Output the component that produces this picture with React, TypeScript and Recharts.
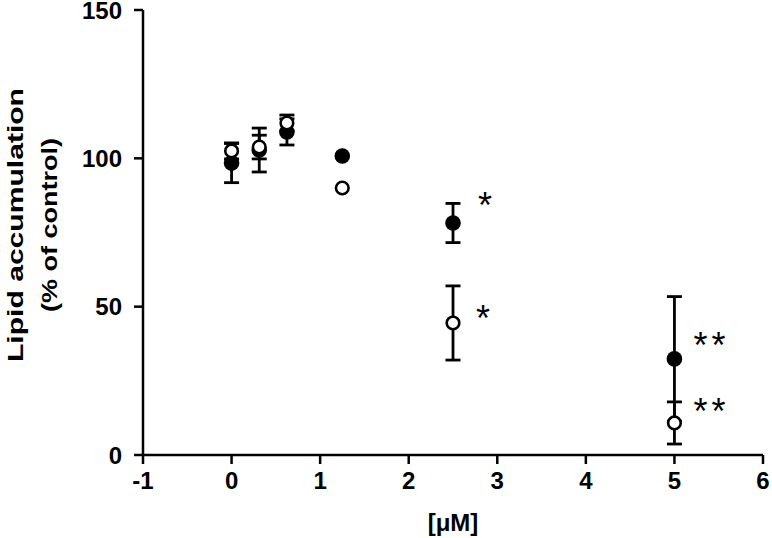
import { ScatterChart, Scatter, XAxis, YAxis, ErrorBar, Label } from "recharts";

// concentration (µM)
const doses = [0, 0.3125, 0.625, 1.25, 2.5, 5];
// filled circles
const filledMean = [98.4, 102.8, 108.9, 100.8, 78.2, 32.4];
const filledErr = [6.6, 7.4, 4.4, 0, 6.6, 21];
// open circles
const openMean = [102.5, 103.8, 111.9, 90, 44.5, 10.8];
const openErr = [2.7, 4, 2.7, 0, 12.5, 7.1];

const xTicks = [-1, 0, 1, 2, 3, 4, 5, 6];
const yTicks = [0, 50, 100, 150];

// significance marks
const sigX = [2.86, 2.84, 5.42, 5.42];
const sigY = [86.5, 48.5, 39.5, 17.2];
const sigText = ["*", "*", "**", "**"];

const filledData = doses.map((x, i) => ({ x, y: filledMean[i], err: filledErr[i] }));
const openData = doses.map((x, i) => ({ x, y: openMean[i], err: openErr[i] }));
const sigData = sigX.map((x, i) => ({ x, y: sigY[i], label: sigText[i] }));

const font = "'Liberation Sans', Arial, Helvetica, sans-serif";
const axisStyle = { stroke: "#000", strokeWidth: 2.5 };
const tickStyle = { fill: "#000", fontSize: 24, fontWeight: 700, fontFamily: font };

const FilledDot = (p: any) => <circle cx={p.cx} cy={p.cy} r={7.8} fill="#000" />;
const OpenDot = (p: any) => (
  <circle cx={p.cx} cy={p.cy} r={6.3} fill="#fff" stroke="#000" strokeWidth={2.6} />
);
const SigMark = (p: any) => (
  <text
    x={p.cx}
    y={p.cy + 20}
    textAnchor="middle"
    fontSize={36}
    fontFamily={font}
    letterSpacing={p.payload.label.length > 1 ? 4 : 0}
    fill="#000"
  >
    {p.payload.label}
  </text>
);

const YTitle = () => (
  <g fontFamily={font} fontWeight={700} fontSize={22} fill="#000">
    <text
      transform="translate(23,225) rotate(-90)"
      textAnchor="middle"
      textLength={274}
      lengthAdjust="spacingAndGlyphs"
    >
      Lipid accumulation
    </text>
    <text
      transform="translate(57,225) rotate(-90)"
      textAnchor="middle"
      textLength={174}
      lengthAdjust="spacingAndGlyphs"
    >
      (% of control)
    </text>
  </g>
);

export default function App() {
  return (
    <div style={{ position: "absolute", left: 0, top: 0, background: "#fff" }}>
      <ScatterChart
        width={772}
        height={538}
        margin={{ top: 10, right: 9, bottom: 0, left: 0 }}
      >
        <XAxis
          type="number"
          dataKey="x"
          domain={[-1, 6]}
          ticks={xTicks}
          interval={0}
          height={83}
          axisLine={axisStyle}
          tickLine={axisStyle}
          tickSize={9}
          tickMargin={8}
          tick={tickStyle}
        >
          <Label
            value="[μM]"
            position="insideBottom"
            offset={7}
            style={{ fill: "#000", fontSize: 24, fontWeight: 700, fontFamily: font }}
          />
        </XAxis>
        <YAxis
          type="number"
          dataKey="y"
          domain={[0, 150]}
          ticks={yTicks}
          interval={0}
          width={143}
          axisLine={axisStyle}
          tickLine={axisStyle}
          tickSize={9}
          tickMargin={12}
          tick={tickStyle}
        >
          <Label content={<YTitle />} />
        </YAxis>
        <Scatter data={filledData} shape={FilledDot} isAnimationActive={false}>
          <ErrorBar dataKey="err" direction="y" width={7.5} stroke="#000" strokeWidth={2.8} />
        </Scatter>
        <Scatter data={openData} shape={OpenDot} isAnimationActive={false}>
          <ErrorBar dataKey="err" direction="y" width={7.5} stroke="#000" strokeWidth={2.8} />
        </Scatter>
        <Scatter data={sigData} shape={SigMark} isAnimationActive={false} />
      </ScatterChart>
    </div>
  );
}
